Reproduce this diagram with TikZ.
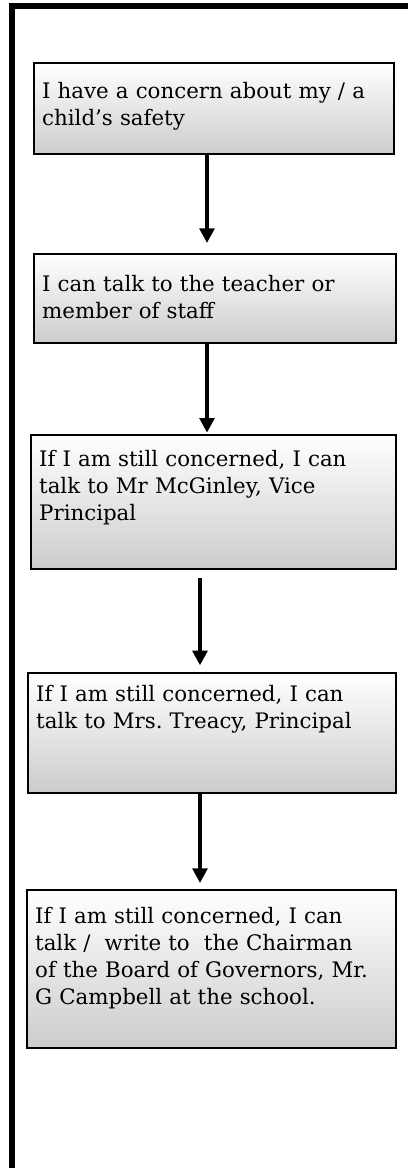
\documentclass[tikz,border=0pt]{standalone}
\usepackage{fontspec}
\setmainfont{DejaVu Serif}
\usetikzlibrary{arrows.meta}

\begin{document}
\begin{tikzpicture}[
    x=0.75pt, y=-0.75pt,
    >={Triangle[length=11pt, width=11pt]},
    stage/.style={
        draw, rectangle, anchor=north west, line width=1.8pt,
        top color=white, bottom color=black!20,
        align=left, inner xsep=6pt, inner ysep=0pt,
        font=\fontsize{16}{20.25}\selectfont
    },
    flow/.style={->, line width=2.8pt}
]

\useasboundingbox (0,0) rectangle (408,1168);

% Page frame
\draw[line width=4.5pt] (408,6) -- (12,6) -- (12,1168);

% -------------------------
% Steps (top to bottom)
% -------------------------

% 1. Concern
\node[stage, text width=258pt, text height=26.25pt, text depth=42pt] (concern) at (33,62) {
    I have a concern about my / a\\
    child's safety
};

% 2. Teacher or staff
\node[stage, text width=259.5pt, text height=27.75pt, text depth=39pt] (staff) at (33,253) {
    I can talk to the teacher or\\
    member of staff
};

% 3. Vice Principal
\node[stage, text width=261.75pt, text height=23.25pt, text depth=77.25pt] (vice) at (30,434) {
    If I am still concerned, I can\\
    talk to Mr McGinley, Vice\\
    Principal
};

% 4. Principal
\node[stage, text width=264pt, text height=21pt, text depth=69pt] (principal) at (27,672) {
    If I am still concerned, I can\\
    talk to Mrs.\ Treacy, Principal
};

% 5. Chairman of the Board
\node[stage, text width=264.75pt, text height=25pt, text depth=93.5pt] (chairman) at (26,889) {
    If I am still concerned, I can\\
    talk /\ \ write to\ \ the Chairman\\
    of the Board of Governors, Mr.\\
    G Campbell at the school.
};

% -------------------------
% Arrows
% -------------------------
\coordinate (colA) at (207,0);
\coordinate (colB) at (200,0);

\draw[flow, shorten >=7.5pt] (concern.south -| colA) -- (staff.north -| colA);
\draw[flow, shorten >=1pt] (staff.south -| colA) -- (vice.north -| colA);
\draw[flow, shorten <=6pt, shorten >=5pt] (vice.south -| colB) -- (principal.north -| colB);
\draw[flow, shorten >=4.5pt] (principal.south -| colB) -- (chairman.north -| colB);

\end{tikzpicture}
\end{document}
